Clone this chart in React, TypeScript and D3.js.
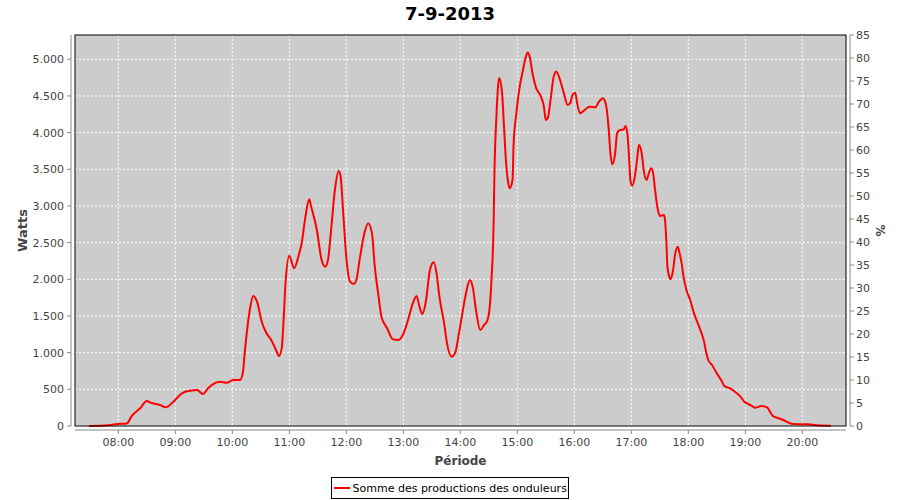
import React from "react";
import * as d3 from "d3";

const times: string[] = [
  "07:29","07:50","07:59","08:09","08:14","08:23","08:30","08:34","08:44","08:50","08:58",
  "09:07","09:16","09:23","09:29","09:35","09:47","09:54","10:01","10:08","10:11","10:13",
  "10:16","10:19","10:22","10:26","10:31","10:36","10:41","10:46","10:49","10:52","10:54",
  "10:56","11:00","11:05","11:10","11:13","11:17","11:21","11:23","11:29","11:34","11:38",
  "11:41","11:44","11:48","11:52","11:54","11:57","12:00","12:04","12:08","12:11","12:14",
  "12:19","12:23","12:27","12:30","12:34","12:37","12:43","12:49","12:55","13:00","13:05",
  "13:10","13:14","13:17","13:20","13:24","13:28","13:32","13:35","13:38","13:43","13:46",
  "13:51","13:55","13:58","14:01","14:06","14:10","14:13","14:17","14:21","14:25","14:28",
  "14:31","14:33","14:35","14:36","14:38","14:40","14:41","14:44","14:46","14:48","14:50",
  "14:52","14:55","14:56","14:59","15:02","15:06","15:09","15:11","15:13","15:16","15:20",
  "15:24","15:28","15:30","15:32","15:35","15:38","15:41","15:45","15:49","15:53","15:56",
  "15:58","16:01","16:03","16:06","16:11","16:16","16:22","16:26","16:30","16:33","16:36",
  "16:38","16:40","16:43","16:45","16:48","16:52","16:54","16:56","16:58","16:59","17:01",
  "17:04","17:06","17:08","17:11","17:13","17:16","17:19","17:21","17:23","17:25","17:28",
  "17:30","17:34","17:35","17:37","17:38","17:40","17:41","17:44","17:46","17:49","17:50",
  "17:53","17:55","17:58","18:02","18:06","18:10","18:14","18:17","18:19","18:21","18:25",
  "18:30","18:35","18:38","18:44","18:49","18:55","18:59","19:03","19:07","19:10","19:14",
  "19:17","19:23","19:26","19:29","19:35","19:40","19:45","19:50","20:06","20:15","20:30"
];

const watts: number[] = [
  0,10,27,35,136,241,341,318,286,255,331,
  446,482,491,436,523,604,590,627,627,718,991,
  1354,1627,1773,1695,1422,1264,1173,1036,955,1059,1445,
  1946,2322,2150,2332,2491,2854,3091,2991,2673,2264,2172,
  2286,2673,3218,3477,3400,2854,2300,1968,1936,2014,2264,
  2627,2764,2627,2172,1763,1490,1332,1182,1173,1254,1445,
  1673,1773,1627,1527,1718,2127,2232,2082,1763,1400,1127,
  945,1013,1218,1445,1809,1991,1900,1536,1309,1377,1422,
  1627,2036,2718,3491,4218,4673,4741,4536,4082,3627,3354,
  3241,3354,3809,4263,4582,4854,5036,5091,5036,4809,4604,
  4514,4354,4173,4195,4445,4741,4832,4718,4536,4377,4409,
  4514,4545,4400,4263,4309,4354,4345,4422,4468,4400,4082,
  3718,3570,3718,3991,4036,4045,4091,3968,3582,3354,3277,
  3422,3627,3832,3718,3491,3354,3468,3513,3445,3218,2945,
  2864,2877,2854,2491,2172,2036,2000,2127,2332,2445,2400,
  2218,2036,1854,1718,1536,1400,1264,1127,991,900,832,
  718,618,545,514,468,400,331,300,273,250,263,
  273,255,195,136,105,82,50,27,23,9,3
];

const hourTicks: string[] = ["08:00","09:00","10:00","11:00","12:00","13:00","14:00","15:00","16:00","17:00","18:00","19:00","20:00"];
const leftTicks: number[] = [0,500,1000,1500,2000,2500,3000,3500,4000,4500,5000];
const rightTicks: number[] = [0,5,10,15,20,25,30,35,40,45,50,55,60,65,70,75,80,85];

const title = "7-9-2013";
const yLabel = "Watts";
const y2Label = "%";
const xLabel = "Période";
const seriesName = "Somme des productions des onduleurs";

const toDate = (s: string) => {
  const [h, m] = s.split(":").map(Number);
  return new Date(2013, 8, 7, h, m, 0);
};

export default function App() {
  const L = 75, R = 846, T = 35, B = 426;
  const x = d3.scaleTime()
    .domain([new Date(2013, 8, 7, 7, 14, 25), new Date(2013, 8, 7, 20, 46, 0)])
    .range([L, R]);
  const y = d3.scaleLinear().domain([0, 5331]).range([B, T]);
  const y2 = d3.scaleLinear().domain([0, 85]).range([B, T]);
  const loc = d3.formatLocale({ decimal: ",", thousands: ".", grouping: [3], currency: ["", "€"] });
  const fmt = loc.format(",");

  const data = times.map((t, i) => ({ t: toDate(t), v: watts[i] }));
  const line = d3.line<{ t: Date; v: number }>().x(d => x(d.t)).y(d => y(d.v)).curve(d3.curveMonotoneX);

  const font = "'DejaVu Sans', sans-serif";
  const tickColor = "#444";
  const axisColor = "#888";

  return (
    <svg width={900} height={500} style={{ position: "absolute", left: 0, top: 0, background: "#fff" }} fontFamily={font}>
      <text x={450} y={20} textAnchor="middle" fontSize={18} fontWeight="bold" fill="#000">{title}</text>
      <rect x={L} y={T} width={R - L} height={B - T} fill="#cccccc" />
      {hourTicks.map(h => (
        <line key={"vg" + h} x1={x(toDate(h))} x2={x(toDate(h))} y1={T} y2={B} stroke="#fff" strokeWidth={1} strokeDasharray="2,2" />
      ))}
      {leftTicks.map(v => (
        <line key={"hg" + v} x1={L} x2={R} y1={y(v)} y2={y(v)} stroke="#fff" strokeWidth={1} strokeDasharray="2,2" />
      ))}
      <path d={line(data) || ""} fill="none" stroke="#ff0000" strokeWidth={2} strokeLinejoin="round" />
      <rect x={L} y={T} width={R - L} height={B - T} fill="none" stroke="#000" strokeWidth={1} />

      {/* left axis */}
      <line x1={71} x2={71} y1={T} y2={B} stroke={axisColor} strokeWidth={1} />
      {leftTicks.map(v => (
        <g key={"lt" + v}>
          <line x1={67} x2={71} y1={y(v)} y2={y(v)} stroke={axisColor} />
          <text x={64} y={y(v) + 4} textAnchor="end" fontSize={11} fill={tickColor}>{fmt(v)}</text>
        </g>
      ))}
      <text transform={`translate(27, ${(T + B) / 2}) rotate(-90)`} textAnchor="middle" fontSize={13} fontWeight="bold" fill={tickColor}>{yLabel}</text>

      {/* right axis */}
      <line x1={850} x2={850} y1={T} y2={B} stroke={axisColor} strokeWidth={1} />
      {rightTicks.map(v => (
        <g key={"rt" + v}>
          <line x1={850} x2={854} y1={y2(v)} y2={y2(v)} stroke={axisColor} />
          <text x={856} y={y2(v) + 4} textAnchor="start" fontSize={11} fill={tickColor}>{v}</text>
        </g>
      ))}
      <text transform={`translate(876, ${(T + B) / 2}) rotate(90)`} textAnchor="middle" fontSize={12} fontWeight="bold" fill={tickColor}>{y2Label}</text>

      {/* bottom axis */}
      <line x1={L} x2={R} y1={430} y2={430} stroke={axisColor} strokeWidth={1} />
      {hourTicks.map(h => (
        <g key={"bt" + h}>
          <line x1={x(toDate(h))} x2={x(toDate(h))} y1={430} y2={434} stroke={axisColor} />
          <text x={x(toDate(h))} y={446} textAnchor="middle" fontSize={11} fill={tickColor}>{d3.timeFormat("%H:%M")(toDate(h))}</text>
        </g>
      ))}
      <text x={(L + R) / 2} y={465} textAnchor="middle" fontSize={12} fontWeight="bold" fill={tickColor}>{xLabel}</text>

      {/* legend */}
      <rect x={331.5} y={477.5} width={237} height={21} fill="#fff" stroke="#000" strokeWidth={1} />
      <line x1={334} x2={350} y1={488} y2={488} stroke="#ff0000" strokeWidth={2} />
      <text x={352.5} y={492} fontSize={11} fill="#000">{seriesName}</text>
    </svg>
  );
}
